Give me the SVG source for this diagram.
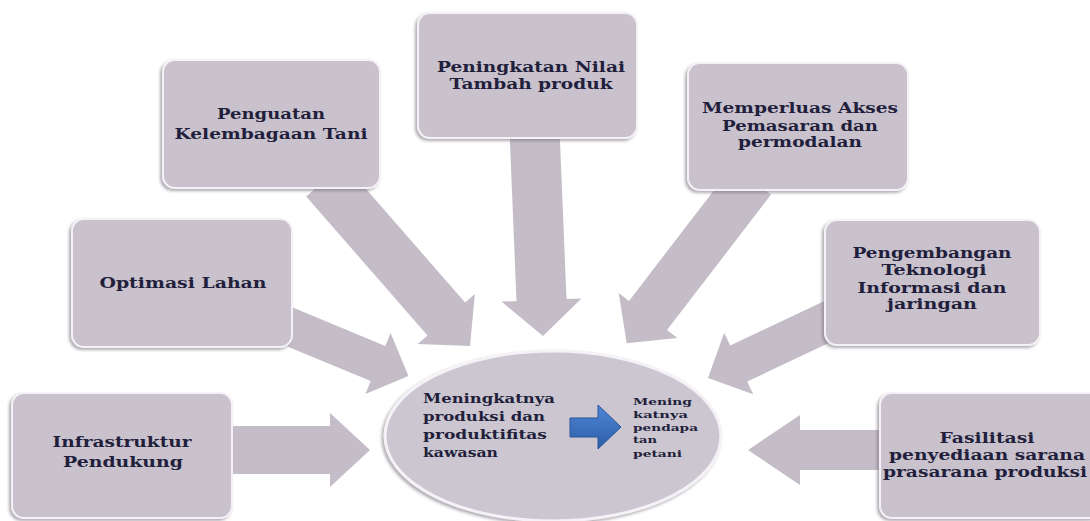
<svg xmlns="http://www.w3.org/2000/svg" width="1090" height="521" viewBox="0 0 1090 521">
<defs>
<filter id="sh" x="-10%" y="-10%" width="120%" height="125%">
<feDropShadow dx="-2" dy="2" stdDeviation="1.5" flood-color="#7a7480" flood-opacity="0.6"/>
</filter>
<linearGradient id="blue" x1="0" y1="0" x2="0" y2="1">
<stop offset="0" stop-color="#4f86d6"/>
<stop offset="1" stop-color="#2c5ea8"/>
</linearGradient>
</defs>
<style>
.box{fill:#c9c2cd;stroke:#f4f2f6;stroke-width:2;filter:url(#sh)}
.arr{fill:#c4bdc8;stroke:none}
.t{font-family:"DejaVu Serif","Liberation Serif",serif;font-weight:bold;font-size:14px;fill:#221f3c;text-anchor:middle}
.tl{font-family:"DejaVu Serif","Liberation Serif",serif;font-weight:bold;font-size:13px;fill:#221f3c}
.ts{font-family:"DejaVu Serif","Liberation Serif",serif;font-weight:bold;font-size:10px;fill:#221f3c}
</style>
<rect width="1090" height="521" fill="#ffffff"/>
<g id="connectors">
<polygon class="arr" points="343.8,163.5 465.1,302.5 474.9,293.9 470,346 417.7,343.9 427.5,335.4 306.2,196.5"/>
<polygon class="arr" points="559.5,129 566.5,299 581.5,298.4 543,336 501.5,301.6 516.5,301.1 509.5,131"/>
<polygon class="arr" points="733,165.4 629,300.9 618.7,293 626.7,343.3 677.3,338 667,330.1 771,194.6"/>
<polygon class="arr" points="286.8,305.1 385.3,345.9 390.6,333 408.5,376.1 365.4,394 370.7,381.1 272.2,340.3"/>
<polygon class="arr" points="826.5,299.9 730.2,345.4 724.2,332.8 708,378 753.2,394.2 747.2,381.6 843.5,336.1"/>
<polygon class="arr" points="226,426 330,426 330,413 370,450 330,487 330,474 226,474"/>
<polygon class="arr" points="890,430 800,430 800,415 748,450 800,485 800,470 890,470"/>
</g>
<g id="node-center">
<ellipse cx="553" cy="436" rx="168" ry="85" fill="#cbc6cf" stroke="#f4f2f6" stroke-width="3" filter="url(#sh)"/>
<text class="tl"><tspan x="423" y="403" textLength="132" lengthAdjust="spacingAndGlyphs">Meningkatnya</tspan><tspan x="423" y="421" textLength="122" lengthAdjust="spacingAndGlyphs">produksi dan</tspan><tspan x="423" y="439" textLength="124" lengthAdjust="spacingAndGlyphs">produktifitas</tspan><tspan x="423" y="457" textLength="75" lengthAdjust="spacingAndGlyphs">kawasan</tspan></text>
<polygon points="570,418 598,418 598,405 621,427 598,449 598,437 570,437" fill="url(#blue)" stroke="#2a559a" stroke-width="1"/>
<text class="ts"><tspan x="633" y="405" textLength="59" lengthAdjust="spacingAndGlyphs">Mening</tspan><tspan x="633" y="418" textLength="55" lengthAdjust="spacingAndGlyphs">katnya</tspan><tspan x="633" y="431" textLength="65" lengthAdjust="spacingAndGlyphs">pendapa</tspan><tspan x="633" y="443" textLength="24" lengthAdjust="spacingAndGlyphs">tan</tspan><tspan x="633" y="457" textLength="49" lengthAdjust="spacingAndGlyphs">petani</tspan></text>
</g>
<g id="node-penguatan">
<rect class="box" x="163" y="60" width="217" height="128" rx="12"/>
<text class="t"><tspan x="271" y="119" textLength="108" lengthAdjust="spacingAndGlyphs">Penguatan</tspan><tspan x="271" y="139" textLength="193" lengthAdjust="spacingAndGlyphs">Kelembagaan Tani</tspan></text>
</g>
<g id="node-peningkatan">
<rect class="box" x="418" y="13" width="219" height="125" rx="12"/>
<text class="t"><tspan x="531" y="72" textLength="188" lengthAdjust="spacingAndGlyphs">Peningkatan Nilai</tspan><tspan x="531" y="89" textLength="163" lengthAdjust="spacingAndGlyphs">Tambah produk</tspan></text>
</g>
<g id="node-memperluas">
<rect class="box" x="688" y="63" width="220" height="127" rx="12"/>
<text class="t"><tspan x="800" y="113" textLength="196" lengthAdjust="spacingAndGlyphs">Memperluas Akses</tspan><tspan x="800" y="131" textLength="156" lengthAdjust="spacingAndGlyphs">Pemasaran dan</tspan><tspan x="800" y="147" textLength="124" lengthAdjust="spacingAndGlyphs">permodalan</tspan></text>
</g>
<g id="node-optimasi">
<rect class="box" x="72" y="219" width="220" height="128" rx="12"/>
<text class="t" x="183" y="288" textLength="167" lengthAdjust="spacingAndGlyphs">Optimasi Lahan</text>
</g>
<g id="node-pengembangan">
<rect class="box" x="825" y="220" width="215" height="125" rx="12"/>
<text class="t"><tspan x="932" y="258" textLength="159" lengthAdjust="spacingAndGlyphs">Pengembangan</tspan><tspan x="934" y="275" textLength="105" lengthAdjust="spacingAndGlyphs">Teknologi</tspan><tspan x="932" y="293" textLength="149" lengthAdjust="spacingAndGlyphs">Informasi dan</tspan><tspan x="932" y="309" textLength="90" lengthAdjust="spacingAndGlyphs">jaringan</tspan></text>
</g>
<g id="node-infrastruktur">
<rect class="box" x="12" y="393" width="220" height="125" rx="12"/>
<text class="t"><tspan x="122" y="447" textLength="139" lengthAdjust="spacingAndGlyphs">Infrastruktur</tspan><tspan x="123" y="467" textLength="120" lengthAdjust="spacingAndGlyphs">Pendukung</tspan></text>
</g>
<g id="node-fasilitasi">
<rect class="box" x="880" y="393" width="222" height="125" rx="12"/>
<text class="t"><tspan x="987" y="443" textLength="95" lengthAdjust="spacingAndGlyphs">Fasilitasi</tspan><tspan x="987" y="460" textLength="196" lengthAdjust="spacingAndGlyphs">penyediaan sarana</tspan><tspan x="985" y="477" textLength="204" lengthAdjust="spacingAndGlyphs">prasarana produksi</tspan></text>
</g>
</svg>
